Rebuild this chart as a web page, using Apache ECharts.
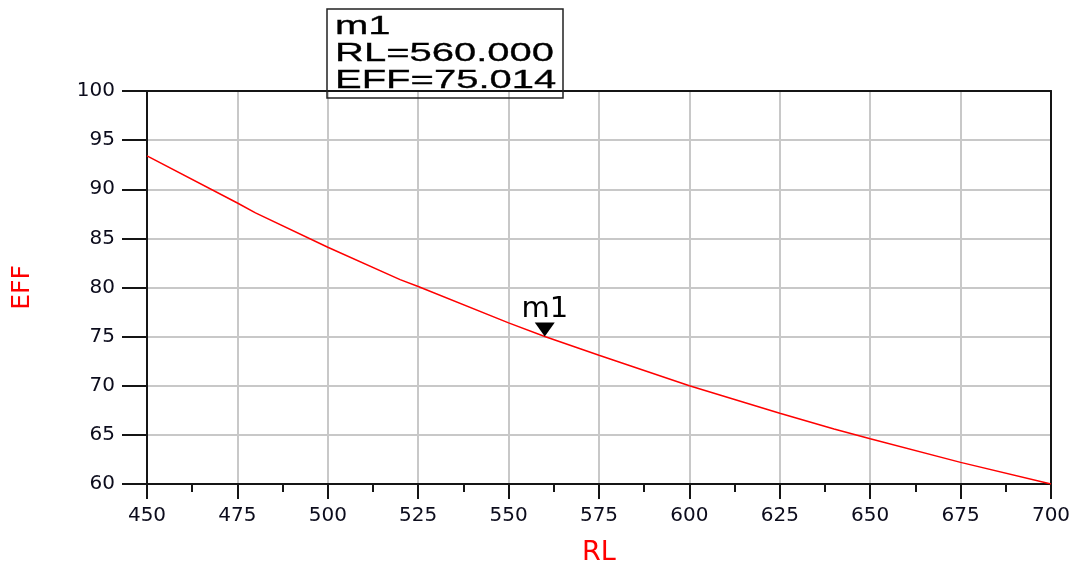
<!DOCTYPE html>
<html>
<head>
<meta charset="utf-8">
<script src="https://cdn.jsdelivr.net/npm/echarts@6/dist/echarts.min.js"></script>
<style>
  html, body { margin: 0; padding: 0; background: #fff; }
  #chart { width: 1079px; height: 567px; }
</style>
</head>
<body>
<div id="chart"></div>
<script>
// Load resistance sweep (RL) and the resulting efficiency (EFF, %)
const rl = [450, 475, 480, 500, 520, 525, 550, 560, 575, 600, 625, 640, 650, 675, 700];
const eff = [93.4, 88.6, 87.6, 84.1, 80.8, 80.1, 76.4, 75.014, 73.1, 70.0, 67.2, 65.6, 64.6, 62.2, 60.0];

// Marker m1
const markerName = 'm1';
const markerRL = 560;
const markerEFF = 75.014;

const xTicks = { min: 450, max: 700, step: 25 };
const yTicks = { min: 60, max: 100, step: 5 };

const chart = echarts.init(document.getElementById('chart'), null, { renderer: 'canvas' });

const axisFont = 'DejaVu Sans';
const ink = '#151515';
const labelInk = '#0c0c1c';

// Plain frame line used for the top and right edges of the plot
const frameAxis = {
  type: 'value',
  axisLine: { show: true, onZero: false, lineStyle: { color: ink, width: 2 } },
  axisTick: { show: false },
  axisLabel: { show: false },
  splitLine: { show: false }
};

chart.setOption({
  animation: false,
  backgroundColor: '#ffffff',
  grid: { left: 147, right: 28, top: 91, bottom: 83, outerBoundsMode: 'none', containLabel: false },
  xAxis: [
    {
      type: 'value',
      min: xTicks.min, max: xTicks.max, interval: xTicks.step,
      name: 'RL', nameLocation: 'middle', nameGap: 55,
      nameTextStyle: { color: '#ff0000', fontSize: 27, fontFamily: axisFont },
      axisLine: { show: true, onZero: false, lineStyle: { color: ink, width: 2 } },
      axisTick: { show: true, inside: false, length: 15, lineStyle: { color: ink, width: 2 } },
      minorTick: { show: true, splitNumber: 2, length: 8, lineStyle: { color: ink, width: 2 } },
      axisLabel: { color: labelInk, fontSize: 20, fontFamily: axisFont, margin: 22 },
      splitLine: { show: true, lineStyle: { color: '#c8c8c8', width: 2 } },
      z: 2
    },
    Object.assign({ position: 'top', min: xTicks.min, max: xTicks.max, z: 2 }, frameAxis)
  ],
  yAxis: [
    {
      type: 'value',
      min: yTicks.min, max: yTicks.max, interval: yTicks.step,
      name: 'EFF', nameLocation: 'middle', nameGap: 112, nameRotate: 90,
      nameTextStyle: { color: '#ff0000', fontSize: 25, fontFamily: axisFont },
      axisLine: { show: true, onZero: false, lineStyle: { color: ink, width: 2 } },
      axisTick: { show: true, inside: false, length: 25, lineStyle: { color: ink, width: 2 } },
      axisLabel: { color: labelInk, fontSize: 20, fontFamily: axisFont, margin: 32 },
      splitLine: { show: true, lineStyle: { color: '#c8c8c8', width: 2 } },
      z: 2
    },
    Object.assign({ position: 'right', min: yTicks.min, max: yTicks.max, z: 2 }, frameAxis)
  ],
  series: [
    {
      type: 'line',
      data: rl.map((x, i) => [x, eff[i]]),
      showSymbol: false,
      lineStyle: { color: '#ff0000', width: 1.5 },
      z: 3
    },
    {
      type: 'scatter',
      data: [[markerRL, markerEFF]],
      symbol: 'triangle',
      symbolRotate: 180,
      symbolSize: [20, 14],
      symbolOffset: [0, -7],
      itemStyle: { color: '#000', opacity: 1 },
      label: {
        show: true, position: 'top', distance: -1,
        formatter: markerName,
        color: '#000', fontSize: 29, fontFamily: axisFont
      },
      emphasis: { disabled: true },
      z: 4
    }
  ],
  graphic: [
    {
      type: 'rect',
      shape: { x: 327, y: 9, width: 236, height: 89 },
      style: { fill: 'transparent', stroke: '#222', lineWidth: 1.5 },
      z: 10
    },
    {
      type: 'text',
      x: 335, y: 14,
      scaleX: 1.6,
      style: {
        text: [
          markerName,
          'RL=' + markerRL.toFixed(3),
          'EFF=' + markerEFF.toFixed(3)
        ].join('\n'),
        fill: '#000',
        stroke: '#000',
        lineWidth: 0.3,
        font: '25px "Liberation Sans"',
        lineHeight: 27
      },
      z: 10
    }
  ]
});
</script>
</body>
</html>
